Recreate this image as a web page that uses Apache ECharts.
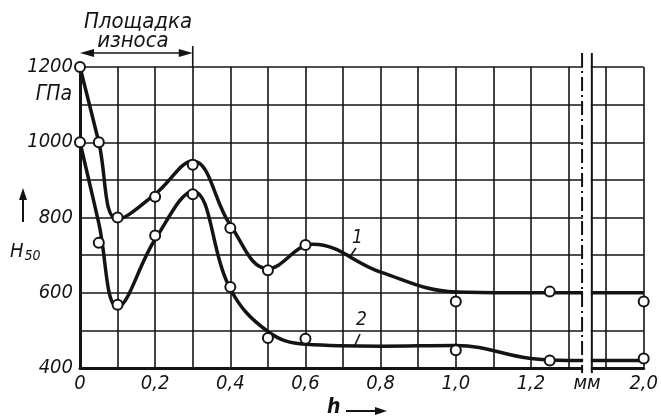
<!DOCTYPE html>
<html><head><meta charset="utf-8">
<script src="https://cdn.jsdelivr.net/npm/echarts@6/dist/echarts.min.js"></script>
<style>html,body{margin:0;padding:0;background:#fff}#c{width:661px;height:419px}</style>
</head><body><div id="c"></div>
<script>
// Curve 1 (upper) – smooth line control values, real h in mm
const curve1X = [0,0.05,0.1,0.2,0.3,0.4,0.5,0.62,0.8,1.0,1.15,1.3,2.0];
const curve1Y = [1200,1000,795,862,950,780,664,729,655,602,600,600,600];
// Curve 2 (lower)
const curve2X = [0,0.05,0.1,0.2,0.3,0.4,0.5,0.6,0.8,1.0,1.2,1.3,2.0];
const curve2Y = [1000,785,562,742,870,610,497,463,458,460,425,420,420];
// Measured points (hollow circles)
const pts1X = [0,0.05,0.1,0.2,0.3,0.4,0.5,0.6,1.0,1.25,2.0];
const pts1Y = [1200,1000,800,855,940,772,660,727,577,603,577];
const pts2X = [0,0.05,0.1,0.2,0.3,0.4,0.5,0.6,1.0,1.25,2.0];
const pts2Y = [1000,733,568,752,862,615,480,478,447,420,425];
// Tick labels
const xTickValues = [0,0.2,0.4,0.6,0.8,1.0,1.2,2.0];
const xTickLabels = ['0','0,2','0,4','0,6','0,8','1,0','1,2','2,0'];
const yTickValues = [400,600,800,1000,1200];
const yTickLabels = ['400','600','800','1000','1200'];

// broken axis: values beyond the break are shifted left by 0.5 mm
const BREAK_SHIFT = 0.5;
function toAxis(x){ return x > 1.5 ? x - BREAK_SHIFT : x; }
function pairs(xs, ys){ return xs.map((x,i)=>[toAxis(x), ys[i]]); }

const FONT = '"DejaVu Sans Condensed", "DejaVu Sans", sans-serif';
const INK = '#141414';
const chart = echarts.init(document.getElementById('c'), null, {renderer:'canvas'});

chart.setOption({
  animation:false,
  backgroundColor:'#ffffff',
  grid:{left:80, right:14, top:67, bottom:51},
  xAxis:{
    type:'value', min:0, max:1.5, interval:0.1,
    axisLine:{show:true, lineStyle:{color:INK, width:3}},
    axisTick:{show:false},
    splitLine:{show:true, lineStyle:{color:INK, width:1.6}},
    axisLabel:{
      margin:6, color:INK, fontFamily:FONT, fontStyle:'italic', fontSize:20,
      formatter:function(v){
        for (let i=0;i<xTickValues.length;i++){
          if (Math.abs(toAxis(xTickValues[i]) - v) < 1e-6) return xTickLabels[i];
        }
        return '';
      }
    }
  },
  yAxis:{
    type:'value', min:400, max:1200, interval:100,
    axisLine:{show:true, lineStyle:{color:INK, width:3}},
    axisTick:{show:false},
    splitLine:{show:true, lineStyle:{color:INK, width:1.6}},
    axisLabel:{
      margin:7, color:INK, fontFamily:FONT, fontStyle:'italic', fontSize:20,
      formatter:function(v){
        const i = yTickValues.indexOf(Math.round(v));
        return i >= 0 ? yTickLabels[i] : '';
      }
    }
  },
  series:[
    {type:'line', data:pairs(curve1X,curve1Y), smooth:0.4, showSymbol:false,
     lineStyle:{color:INK, width:3.5}, z:3},
    {type:'line', data:pairs(curve2X,curve2Y), smooth:0.4, showSymbol:false,
     lineStyle:{color:INK, width:3.5}, z:3},
    {type:'scatter', data:pairs(pts1X,pts1Y), symbol:'circle', symbolSize:10,
     itemStyle:{color:'#ffffff', opacity:1, borderColor:INK, borderWidth:2}, z:5},
    {type:'scatter', data:pairs(pts2X,pts2Y), symbol:'circle', symbolSize:10,
     itemStyle:{color:'#ffffff', opacity:1, borderColor:INK, borderWidth:2}, z:5}
  ]
});

function px(x,y){ return chart.convertToPixel({gridIndex:0},[x,y]); }
const p00 = px(0,1200), p03 = px(0.3,1200), pBot = px(0,400);
const bL = px(1.336,400)[0], bR = px(1.362,400)[0];
const topY = p00[1], botY = pBot[1];
const txt = (x,y,text,opt)=>Object.assign({type:'text', x:x, y:y, z:120,
  style:Object.assign({text:text, fill:INK, font:'italic 20px '+FONT, textAlign:'left', textVerticalAlign:'middle'}, opt||{})});
const ln = (x1,y1,x2,y2,w,dash)=>({type:'line', z:110, shape:{x1:x1,y1:y1,x2:x2,y2:y2},
  style:{stroke:INK, lineWidth:w, lineDash:dash||null}});
const poly = (pts)=>({type:'polygon', z:110, shape:{points:pts}, style:{fill:INK}});

chart.setOption({graphic:[
  // break gap
  {type:'rect', z:100, shape:{x:bL+1, y:topY-3, width:bR-bL-2, height:botY-topY+8}, style:{fill:'#fff'}},
  ln(bL, topY-14, bL, botY+5, 2, [14,4,2,4]),
  ln(bR, topY-14, bR, botY+5, 2),
  txt((bL+bR)/2, botY+16, 'мм', {textAlign:'center'}),
  // wear land annotation
  txt(138, 22, 'Площадка', {textAlign:'center', font:'italic 22px '+FONT}),
  txt(133, 41, 'износа', {textAlign:'center', font:'italic 22px '+FONT}),
  ln(p00[0]+4, 53, p03[0]-4, 53, 1.6),
  poly([[p00[0],53],[p00[0]+14,49],[p00[0]+14,57]]),
  poly([[p03[0],53],[p03[0]-14,49],[p03[0]-14,57]]),
  ln(p03[0], 46, p03[0], topY, 1.6),
  // y unit & name
  txt(72, 95, 'ГПа', {textAlign:'right', font:'italic 21px '+FONT}),
  ln(23, 222, 23, 196, 2),
  poly([[23,188],[19,200],[27,200]]),
  {type:'text', x:10, y:252, z:120, style:{
    text:'{a|H}{b|50}', textVerticalAlign:'middle',
    rich:{a:{font:'italic 20px '+FONT, fill:INK}, b:{font:'italic 14px '+FONT, fill:INK, padding:[8,0,0,1]}}}},
  // x name
  txt(327, 408, 'h', {font:'italic bold 21px '+FONT}),
  ln(346, 411, 380, 411, 2),
  poly([[387,411],[375,407],[375,415]]),
  // curve labels
  txt(352, 238, '1', {font:'italic 19px '+FONT}),
  ln(356, 248, 349, 258, 1.6),
  txt(356, 320, '2', {font:'italic 19px '+FONT}),
  ln(360, 334, 354, 347, 1.6)
]});
</script></body></html>
